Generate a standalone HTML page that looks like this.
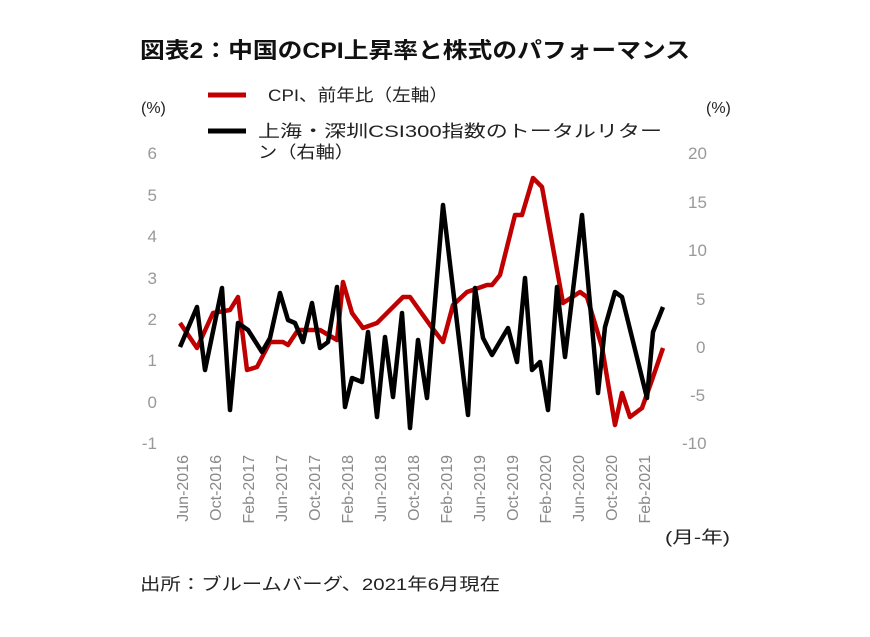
<!DOCTYPE html>
<html><head><meta charset="utf-8"><style>
body{margin:0;background:#fff;}
svg{display:block;font-family:"Liberation Sans","Noto Sans CJK JP",sans-serif;}
</style></head><body>
<svg width="870" height="637" viewBox="0 0 870 637">
<text x="140" y="58" font-size="22" font-weight="bold" fill="#111" textLength="550" lengthAdjust="spacingAndGlyphs">図表2：中国のCPI上昇率と株式のパフォーマンス</text>
<line x1="208" y1="95" x2="246" y2="95" stroke="#c00000" stroke-width="5"/>
<text x="268" y="101" font-size="17" fill="#222" textLength="180" lengthAdjust="spacingAndGlyphs">CPI、前年比（左軸）</text>
<line x1="208" y1="131" x2="246" y2="131" stroke="#000" stroke-width="5"/>
<text x="258" y="137" font-size="17" fill="#222" textLength="404" lengthAdjust="spacingAndGlyphs">上海・深圳CSI300指数のトータルリター</text>
<text x="258" y="158" font-size="17" fill="#222" textLength="96" lengthAdjust="spacingAndGlyphs">ン（右軸）</text>
<text x="141" y="113" font-size="16" fill="#222">(%)</text>
<text x="706" y="113" font-size="16" fill="#222">(%)</text>
<g font-size="17" fill="#999" text-anchor="end">
<text x="157" y="159">6</text><text x="157" y="201">5</text><text x="157" y="242">4</text>
<text x="157" y="284">3</text><text x="157" y="325">2</text><text x="157" y="366">1</text>
<text x="157" y="408">0</text><text x="157" y="449">-1</text>
</g>
<g font-size="17" fill="#999" text-anchor="start">
<text x="688" y="159">20</text><text x="688" y="208">15</text><text x="688" y="256">10</text>
<text x="696" y="305">5</text><text x="696" y="353">0</text><text x="690" y="401">-5</text>
<text x="682" y="449">-10</text>
</g>
<g font-size="16" fill="#888" text-anchor="end">
<text transform="translate(188,455) rotate(-90)">Jun-2016</text>
<text transform="translate(221,455) rotate(-90)">Oct-2016</text>
<text transform="translate(254,455) rotate(-90)">Feb-2017</text>
<text transform="translate(287,455) rotate(-90)">Jun-2017</text>
<text transform="translate(320,455) rotate(-90)">Oct-2017</text>
<text transform="translate(353,455) rotate(-90)">Feb-2018</text>
<text transform="translate(386,455) rotate(-90)">Jun-2018</text>
<text transform="translate(419,455) rotate(-90)">Oct-2018</text>
<text transform="translate(452,455) rotate(-90)">Feb-2019</text>
<text transform="translate(485,455) rotate(-90)">Jun-2019</text>
<text transform="translate(518,455) rotate(-90)">Oct-2019</text>
<text transform="translate(551,455) rotate(-90)">Feb-2020</text>
<text transform="translate(584,455) rotate(-90)">Jun-2020</text>
<text transform="translate(617,455) rotate(-90)">Oct-2020</text>
<text transform="translate(650,455) rotate(-90)">Feb-2021</text>
</g>
<text x="665" y="543" font-size="17" fill="#222" textLength="65" lengthAdjust="spacingAndGlyphs">(月-年)</text>
<polyline fill="none" stroke="#c00000" stroke-width="4.5" stroke-linejoin="round" points="180,323 197,348 213,313 230,310 238,297 247,370 257,367 270,342 283,342 288,345 298,330 320,330 337,340 343,282 352,313 363,328 377,323 403,297 410,297 430,325 443,342 453,305 467,292 487,285 492,285 500,275 515,215 522,215 533,178 542,187 563,303 580,292 587,297 602,347 615,425 622,393 630,417 642,408 652,380 663,348"/>
<polyline fill="none" stroke="#000" stroke-width="4.5" stroke-linejoin="round" points="180,347 197,307 205,370 222,288 230,410 238,323 248,330 262,352 270,338 280,293 288,320 295,323 303,342 312,303 320,348 328,342 337,287 345,407 352,378 362,382 368,332 377,417 385,337 393,397 402,313 410,428 418,340 427,398 443,205 468,415 475,288 483,338 492,355 508,328 517,362 525,278 532,370 540,362 548,410 557,287 565,357 582,215 598,393 605,327 615,292 622,297 647,398 653,332 663,307"/>
<text x="140" y="590" font-size="17" fill="#222" textLength="360" lengthAdjust="spacingAndGlyphs">出所：ブルームバーグ、2021年6月現在</text>
</svg>
</body></html>
